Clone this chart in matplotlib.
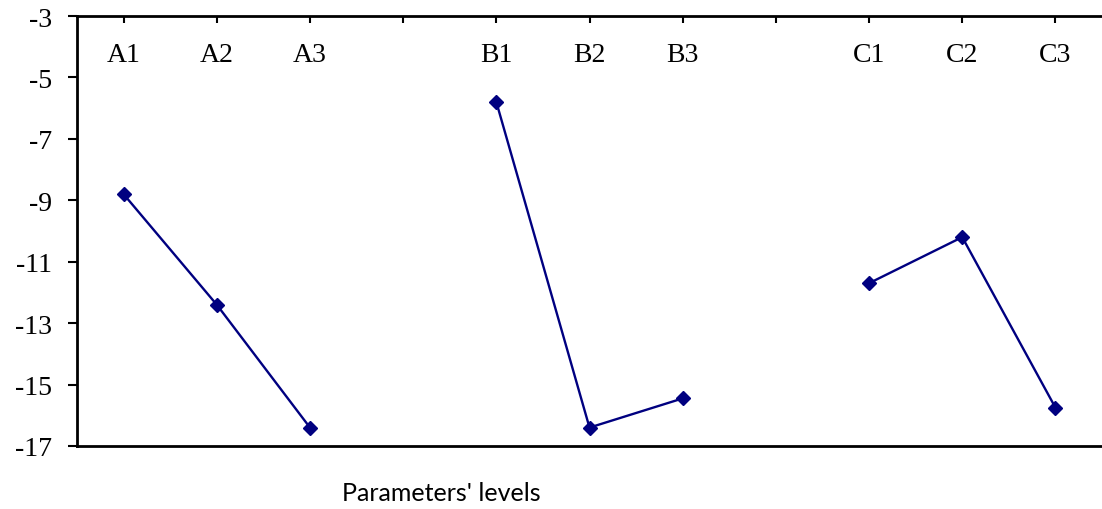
import numpy as np
import matplotlib.pyplot as plt

levels = ["A1", "A2", "A3", "", "B1", "B2", "B3", "", "C1", "C2", "C3"]
values = [-8.8, -12.4, -16.4, np.nan, -5.8, -16.4, -15.45, np.nan, -11.7, -10.2, -15.75]
yticks = [-17, -15, -13, -11, -9, -7, -5, -3]

fig = plt.figure(figsize=(11.02, 5.10), dpi=100)
ax = fig.add_axes([77 / 1102, 1 - 447 / 510, 1 - 77 / 1102, 430 / 510])

x = np.arange(len(levels))
ax.plot(x, values, color="#000080", linewidth=1.7, marker="D", markersize=7.5,
        markerfacecolor="#000080", markeredgecolor="#000080")

ax.set_xlim(-0.5, len(levels) - 0.5)
ax.set_ylim(-17, -3)
ax.set_yticks(yticks)
ax.set_yticklabels([str(t) for t in yticks], fontsize=20, family="Liberation Serif")
ax.tick_params(axis="y", direction="out", length=6.5, width=1.5, pad=11.5)

ax.xaxis.tick_top()
ax.set_xticks(x)
ax.tick_params(axis="x", direction="in", length=5, width=1.5, labeltop=False, labelbottom=False)

for xi, lab in zip(x, levels):
    if lab:
        ax.text(xi, 0.91, lab, transform=ax.get_xaxis_transform(), ha="center", va="center",
                fontsize=20, family="Liberation Serif")

ax.spines["right"].set_visible(False)
for s in ["left", "top", "bottom"]:
    ax.spines[s].set_linewidth(2)
    ax.spines[s].set_color("black")

fig.text(441 / 1102, 1 - 494 / 510, "Parameters' levels", ha="center", va="center",
         fontsize=18, family="Lato")

fig.savefig("out.png", dpi=100)
